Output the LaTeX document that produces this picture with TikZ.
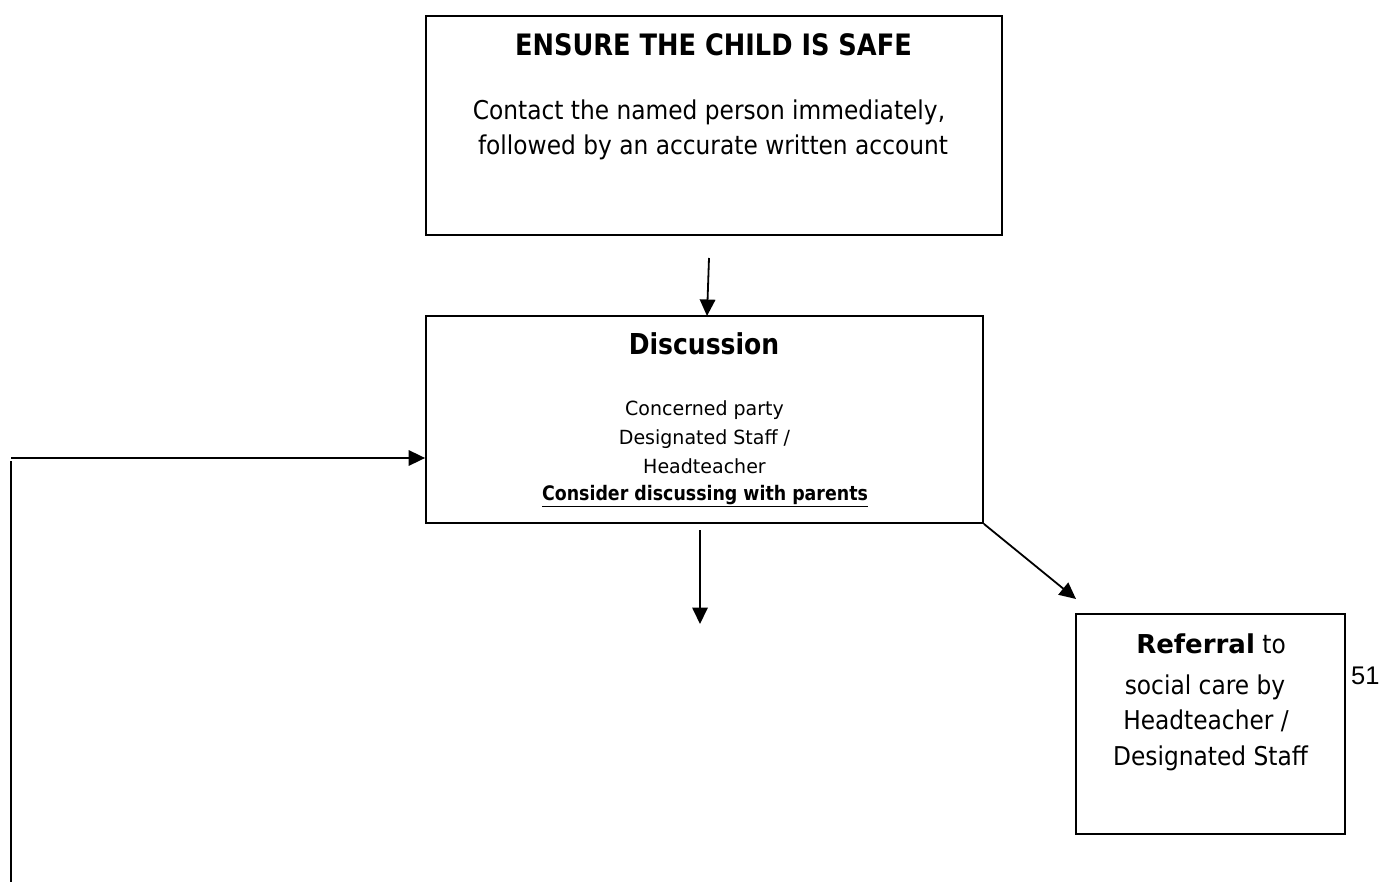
\documentclass[tikz,border=0pt]{standalone}
\usepackage{fontspec}
\setmainfont{DejaVu Sans}[FakeStretch=0.9]
\newfontfamily\bfont{DejaVu Sans}[FakeStretch=0.87]
\newfontfamily\bfontw{DejaVu Sans}[FakeStretch=1.0]
\newfontfamily\sfontw{DejaVu Sans}[FakeStretch=0.975]
\newfontfamily\arialfont{Liberation Sans}
\usetikzlibrary{arrows.meta}
\tikzset{
  box/.style={draw, line width=1.8pt, inner sep=0pt},
  arr/.style={line width=1.8pt, -{Triangle[length=16.5pt,width=15.5pt]}},
  plain/.style={line width=1.8pt},
  txt/.style={anchor=base, inner sep=0pt},
  bigbold/.style={font=\bfont\bfseries\fontsize{29.5}{34}\selectfont},
  bodyA/.style={font=\fontsize{25.9}{31}\selectfont},
  bodyB/.style={font=\sfontw\fontsize{19.5}{24}\selectfont},
}
\begin{document}
\begin{tikzpicture}[x=1pt,y=-1pt]
\useasboundingbox (0,0) rectangle (1384,882);
% boxes
\node[box, minimum width=576pt, minimum height=219pt] (top) at (714,125.5) {};
\node[box, minimum width=557pt, minimum height=207pt] (disc) at (704.5,419.5) {};
\node[box, minimum width=269pt, minimum height=220pt] (ref) at (1210.5,724) {};
% top box text
\node[txt, bigbold] (toptitle) at (713.5,56) {ENSURE THE CHILD IS SAFE};
\node[txt, bodyA] (topl1) at (709,120) {Contact the named person immediately,};
\node[txt, bodyA] (topl2) at (713,155) {followed by an accurate written account};
% discussion text
\node[txt, font=\bfont\bfseries\fontsize{28.8}{34}\selectfont] (disctitle) at (704,355) {Discussion};
\node[txt, bodyB] (dl1) at (704.5,415) {Concerned party};
\node[txt, bodyB] (dl2) at (704.5,444) {Designated Staff /};
\node[txt, bodyB] (dl3) at (704.5,473) {Headteacher};
\node[txt, font=\bfont\bfseries\fontsize{20}{24}\selectfont] (dl4) at (705,500) {\underline{Consider discussing with parents}};
% referral text
\node[txt, bodyA] (rl1) at (1211,653) {{\bfontw\bfseries\fontsize{26}{31}\selectfont Referral} to};
\node[txt, bodyA] (rl2) at (1205,694) {social care by};
\node[txt, bodyA] (rl3) at (1206,729) {Headteacher /};
\node[txt, bodyA] (rl4) at (1210.5,765) {Designated Staff};
% page number
\node[anchor=base west, inner sep=0pt, font=\arialfont\fontsize{25.5}{30}\selectfont] (pnum) at (1351,684) {51};
% connectors
\coordinate (a1s) at (709,258);
\coordinate (a1e) at (707,316);
\draw[arr] (a1s) -- (a1e);
\coordinate (a2s) at (700,530);
\coordinate (a2e) at (700,624);
\draw[arr] (a2s) -- (a2e);
\draw[arr] (disc.south east) -- (1076,599);
\coordinate (loopL) at (11,458);
\coordinate (loopT) at (11,461);
\coordinate (loopB) at (11,882);
\draw[arr] (loopL) -- (loopL -| disc.west);
\draw[plain] (loopT) -- (loopB);
\end{tikzpicture}
\end{document}
